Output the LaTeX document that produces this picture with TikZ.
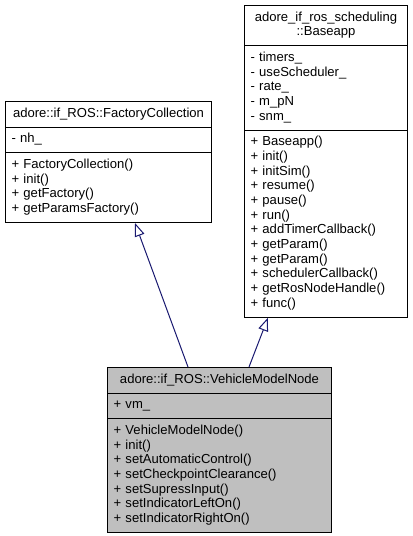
\documentclass[tikz,border=0pt]{standalone}
\usepackage{fontspec}
\setmainfont{Liberation Sans}
\usepackage{xcolor}
\usepackage{tikz}
\usetikzlibrary{shapes.multipart,arrows.meta,calc}

\definecolor{edgeblue}{HTML}{191970}
\definecolor{targetgray}{HTML}{BFBFBF}

\begin{document}
\begin{tikzpicture}[x=0.75pt,y=-0.75pt,
  class/.style={rectangle split,rectangle split parts=3,draw=black,line width=0.75pt,
    fill=white,anchor=north west,inner xsep=4.5pt,inner ysep=3.75pt,align=left,
    font=\fontsize{9.8}{11}\selectfont},
  inherit/.style={draw=edgeblue,line width=0.75pt,
    -{Triangle[open,length=10pt,width=7.5pt,fill=white]}}]

\useasboundingbox (0,0) rectangle (413,536);

\node[class,text width=145.5pt] (FC) at (5,101)
  {\makebox[\linewidth]{\strut adore::if\_ROS::FactoryCollection}
   \nodepart{two}\strut - nh\_
   \nodepart{three}\strut + FactoryCollection()\\
   + init()\\
   + getFactory()\\
   + getParamsFactory()\strut};

\node[class,text width=113.25pt] (Base) at (244,5)
  {\makebox[\linewidth]{\strut adore\_if\_ros\_scheduling}\\
   \makebox[\linewidth]{::Baseapp\strut}
   \nodepart{two}\strut - timers\_\\
   - useScheduler\_\\
   - rate\_\\
   - m\_pN\\
   - snm\_\strut
   \nodepart{three}\strut + Baseapp()\\
   + init()\\
   + initSim()\\
   + resume()\\
   + pause()\\
   + run()\\
   + addTimerCallback()\\
   + getParam()\\
   + getParam()\\
   + schedulerCallback()\\
   + getRosNodeHandle()\\
   + func()\strut};

\node[class,fill=targetgray,text width=159pt] (VMN) at (107,367)
  {\makebox[\linewidth]{\strut adore::if\_ROS::VehicleModelNode}
   \nodepart{two}\strut + vm\_
   \nodepart{three}\strut + VehicleModelNode()\\
   + init()\\
   + setAutomaticControl()\\
   + setCheckpointClearance()\\
   + setSupressInput()\\
   + setIndicatorLeftOn()\\
   + setIndicatorRightOn()\strut};

\path ($(VMN.north west)+(81,0)$) edge [inherit] ($(FC.south west)+(130,0)$);
\path ($(VMN.north west)+(142,0)$) edge [inherit] ($(Base.south west)+(24,0)$);

\end{tikzpicture}
\end{document}
